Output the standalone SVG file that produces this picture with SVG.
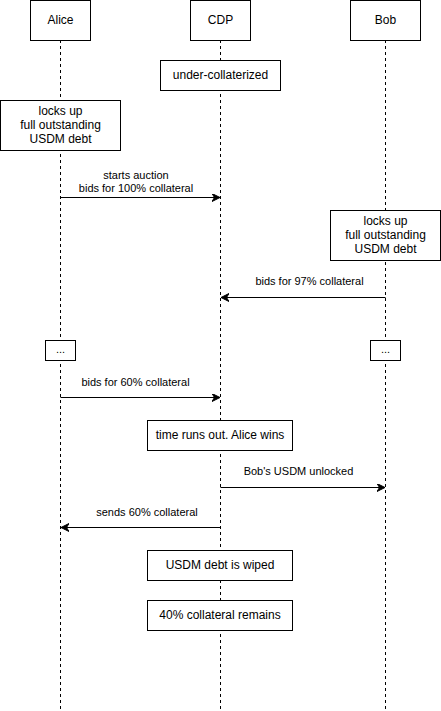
<svg xmlns="http://www.w3.org/2000/svg" width="441" height="711" viewBox="0 0 441 711">
<defs>
<style>
.box{fill:#fff;stroke:#000;stroke-width:1}
.life{stroke:#000;stroke-width:1;stroke-dasharray:3 3;fill:none}
.t{font-family:"Liberation Sans",Arial,sans-serif;font-size:12px;fill:#000;text-anchor:middle}
.l{font-family:"Liberation Sans",Arial,sans-serif;font-size:11px;fill:#000;text-anchor:middle}
.msg{stroke:#000;stroke-width:1;fill:none;marker-end:url(#arr)}
</style>
<marker id="arr" markerUnits="userSpaceOnUse" markerWidth="10" markerHeight="10" viewBox="0 0 10 10" refX="8" refY="4" orient="auto">
<path d="M0,0 L8,4 L0,8 L2.5,4 Z" fill="#000" stroke="#000" stroke-width="1"/>
</marker>
</defs>
<rect width="441" height="711" fill="#fff"/>
<g id="lifelines">
<line class="life" x1="60.5" y1="40" x2="60.5" y2="711"/>
<line class="life" x1="220.5" y1="40" x2="220.5" y2="711"/>
<line class="life" x1="385.5" y1="40" x2="385.5" y2="711"/>
</g>
<g id="alice"><rect class="box" x="30.5" y="0.5" width="60" height="40"/><text class="t" x="60.5" y="24">Alice</text></g>
<g id="cdp"><rect class="box" x="190.5" y="0.5" width="60" height="40"/><text class="t" x="220.5" y="24">CDP</text></g>
<g id="bob"><rect class="box" x="350.5" y="0.5" width="70" height="40"/><text class="t" x="385.5" y="24">Bob</text></g>
<g id="undercoll"><rect class="box" x="160.5" y="60.5" width="120" height="30"/><text class="t" x="220.5" y="79">under-collaterized</text></g>
<g id="alicelock"><rect class="box" x="0.5" y="100.5" width="120" height="50"/>
<text class="t" x="60.5" y="115">locks up</text><text class="t" x="60.5" y="129">full outstanding</text><text class="t" x="60.5" y="143">USDM debt</text></g>
<g id="boblock"><rect class="box" x="330.5" y="210.5" width="110" height="50"/>
<text class="t" x="385.5" y="225">locks up</text><text class="t" x="385.5" y="239">full outstanding</text><text class="t" x="385.5" y="253">USDM debt</text></g>
<g id="alicedots"><rect class="box" x="45.5" y="340.5" width="30" height="20"/><text class="l" x="60.5" y="353">...</text></g>
<g id="bobdots"><rect class="box" x="370.5" y="340.5" width="30" height="20"/><text class="l" x="385.5" y="353">...</text></g>
<g id="timeout"><rect class="box" x="147.5" y="420.5" width="145" height="30"/><text class="t" x="220" y="439">time runs out. Alice wins</text></g>
<g id="wiped"><rect class="box" x="147.5" y="550.5" width="145" height="30"/><text class="t" x="220" y="569">USDM debt is wiped</text></g>
<g id="remains"><rect class="box" x="147.5" y="600.5" width="145" height="30"/><text class="t" x="220" y="619">40% collateral remains</text></g>
<g id="connectors">
<line class="msg" x1="60.5" y1="197.5" x2="220" y2="197.5"/>
<line class="msg" x1="385.5" y1="297.5" x2="221" y2="297.5"/>
<line class="msg" x1="60.5" y1="397.5" x2="220" y2="397.5"/>
<line class="msg" x1="220.5" y1="487.5" x2="385" y2="487.5"/>
<line class="msg" x1="220.5" y1="527.5" x2="61" y2="527.5"/>
<text class="l" x="136" y="179">starts auction</text>
<text class="l" x="136" y="192">bids for 100% collateral</text>
<text class="l" x="309.5" y="285">bids for 97% collateral</text>
<text class="l" x="135.5" y="385.5">bids for 60% collateral</text>
<text class="l" x="298.5" y="475">Bob's USDM unlocked</text>
<text class="l" x="147" y="515.5">sends 60% collateral</text>
</g>
</svg>
